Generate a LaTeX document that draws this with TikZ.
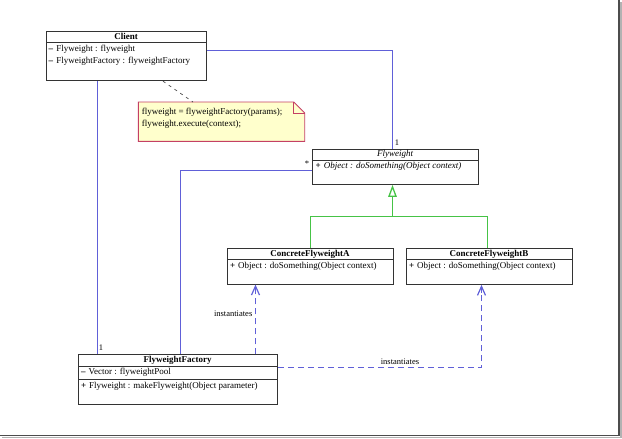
\documentclass[tikz,border=0pt]{standalone}
\usepackage{fontspec}
\setmainfont{Liberation Serif}
\usetikzlibrary{arrows.meta}
\definecolor{umlblue}{RGB}{96,96,216}
\definecolor{umlgreen}{RGB}{70,195,70}
\definecolor{notered}{RGB}{196,64,100}
\definecolor{noteyellow}{RGB}{255,255,204}

\begin{document}
\begin{tikzpicture}[x=1pt,y=-1pt,
    font=\fontsize{9}{10.8}\selectfont,
    classbox/.style={draw=black!80,line width=.9pt,anchor=north west,inner sep=0pt},
    member/.style={anchor=west,inner sep=0pt},
    title/.style={inner sep=0pt,font=\fontsize{9}{10.8}\selectfont\bfseries},
    assoc/.style={draw=umlblue,line width=1.6pt},
    depend/.style={draw=umlblue,line width=1.6pt,dash pattern=on 6pt off 4pt},
    open tip/.style={draw=umlblue,line width=1.2pt,-{Straight Barb[length=9pt,width=8pt]}},
    inherit/.style={draw=umlgreen,line width=1.3pt},
    lbl/.style={inner sep=0pt,font=\fontsize{8.5}{10}\selectfont}]
    \useasboundingbox (0,0) rectangle (622,439);
    % frame
    \draw[gray!60,line width=1.2pt] (2,437.5) -- (621,437.5) -- (621,2);
    \draw[black!70,line width=1.5pt] (0,435.5) -- (619.2,435.5) -- (619.2,0);
    % classes
    \node[classbox,minimum width=159.7pt,minimum height=49.6pt] (client) at (46,30.7) {};
    \draw[black!80,line width=.9pt] ([yshift=-11.6pt]client.north west) -- ([yshift=-11.6pt]client.north east);
    \node[title] (clientT) at (126,36.6) {Client};
    \node[member] (clientA) at (48.5,49.5) {\textbf{--}\,\,Flyweight : flyweight};
    \node[member] (clientB) at (48.5,61) {\textbf{--}\,\,FlyweightFactory : flyweightFactory};

    \node[classbox,minimum width=165.4pt,minimum height=35.3pt] (flyweight) at (312.3,148.7) {};
    \draw[black!80,line width=.9pt] ([yshift=-11.3pt]flyweight.north west) -- ([yshift=-11.3pt]flyweight.north east);
    \node[title,font=\fontsize{9}{10.8}\selectfont\itshape] (flyweightT) at (395,154.4) {Flyweight};
    \node[member] (flyweightM) at (315.5,166.7) {\textbf{+}\,\,\textit{Object : doSomething(Object context)}};

    \node[classbox,minimum width=165.4pt,minimum height=35.4pt] (concreteA) at (227.3,248.3) {};
    \draw[black!80,line width=.9pt] ([yshift=-11.5pt]concreteA.north west) -- ([yshift=-11.5pt]concreteA.north east);
    \node[title] (concreteAT) at (310,254.2) {ConcreteFlyweightA};
    \node[member] (concreteAM) at (229.8,266.7) {\textbf{+}\,\,Object : doSomething(Object context)};

    \node[classbox,minimum width=165.4pt,minimum height=36pt] (concreteB) at (406.3,248) {};
    \draw[black!80,line width=.9pt] ([yshift=-11.5pt]concreteB.north west) -- ([yshift=-11.5pt]concreteB.north east);
    \node[title] (concreteBT) at (489,254) {ConcreteFlyweightB};
    \node[member] (concreteBM) at (408.8,266.5) {\textbf{+}\,\,Object : doSomething(Object context)};

    \node[classbox,minimum width=198.7pt,minimum height=49.7pt] (factory) at (78.3,354.3) {};
    \draw[black!80,line width=.9pt] ([yshift=-11.7pt]factory.north west) -- ([yshift=-11.7pt]factory.north east);
    \draw[black!80,line width=.9pt] ([yshift=-25pt]factory.north west) -- ([yshift=-25pt]factory.north east);
    \node[title] (factoryT) at (177.7,360.3) {FlyweightFactory};
    \node[member] (factoryF) at (80.8,372.7) {\textbf{--}\,\,Vector : flyweightPool};
    \node[member] (factoryM) at (80.8,386) {\textbf{+}\,\,Flyweight : makeFlyweight(Object parameter)};

    % note
    \node[anchor=north west,inner sep=0pt,minimum width=166pt,minimum height=39pt] (note) at (138.3,102) {};
    \draw[notered,fill=noteyellow,line width=.9pt] (note.north west) -- ([xshift=-11pt]note.north east) -- ([yshift=-11pt]note.north east) -- (note.south east) -- (note.south west) -- cycle;
    \draw[notered,line width=.9pt] ([xshift=-11pt]note.north east) -- ([xshift=-11pt,yshift=-11pt]note.north east) -- ([yshift=-11pt]note.north east);
    \node[member] (noteA) at (141.7,112.2) {flyweight = flyweightFactory(params);};
    \node[member] (noteB) at (141.7,124.3) {flyweight.execute(context);};
    \coordinate (noteEnd) at (193,102);
    \draw[black!70,line width=.7pt,dash pattern=on 3pt off 4pt] (client.south -| 163,0) -- (noteEnd);

    % associations
    \draw[assoc] (client.east |- 0,50.5) -| (flyweight.north -| 392.5,0);
    \node[lbl] (one1) at (397,143) {1};
    \draw[assoc] (client.south -| 97.5,0) -- (factory.north -| 97.5,0);
    \node[lbl] (one2) at (101,348) {1};
    \draw[assoc] (factory.north -| 180.5,0) |- (flyweight.west |- 0,170.5);
    \node[lbl] (many) at (307,163.5) {*};

    % generalization
    \coordinate (branch) at (392.5,216.5);
    \draw[inherit] (concreteA.north -| 310.5,0) |- (branch);
    \draw[inherit] (concreteB.north -| 487.5,0) |- (branch);
    \draw[inherit,-{Triangle[open,length=12pt,width=8.5pt]}] (branch) -- (flyweight.south -| branch);

    % dependencies
    \coordinate (depA) at (255.5,292.5);
    \coordinate (depB) at (481.5,292.5);
    \draw[depend] (factory.north -| depA) -- (depA);
    \draw[open tip] (depA) -- (concreteA.south -| depA);
    \node[lbl,anchor=east] (instA) at (252.5,313.5) {instantiates};
    \draw[depend] (factory.east |- 0,367.5) -| (depB);
    \draw[open tip] (depB) -- (concreteB.south -| depB);
    \node[lbl] (instB) at (400,362) {instantiates};
\end{tikzpicture}
\end{document}
